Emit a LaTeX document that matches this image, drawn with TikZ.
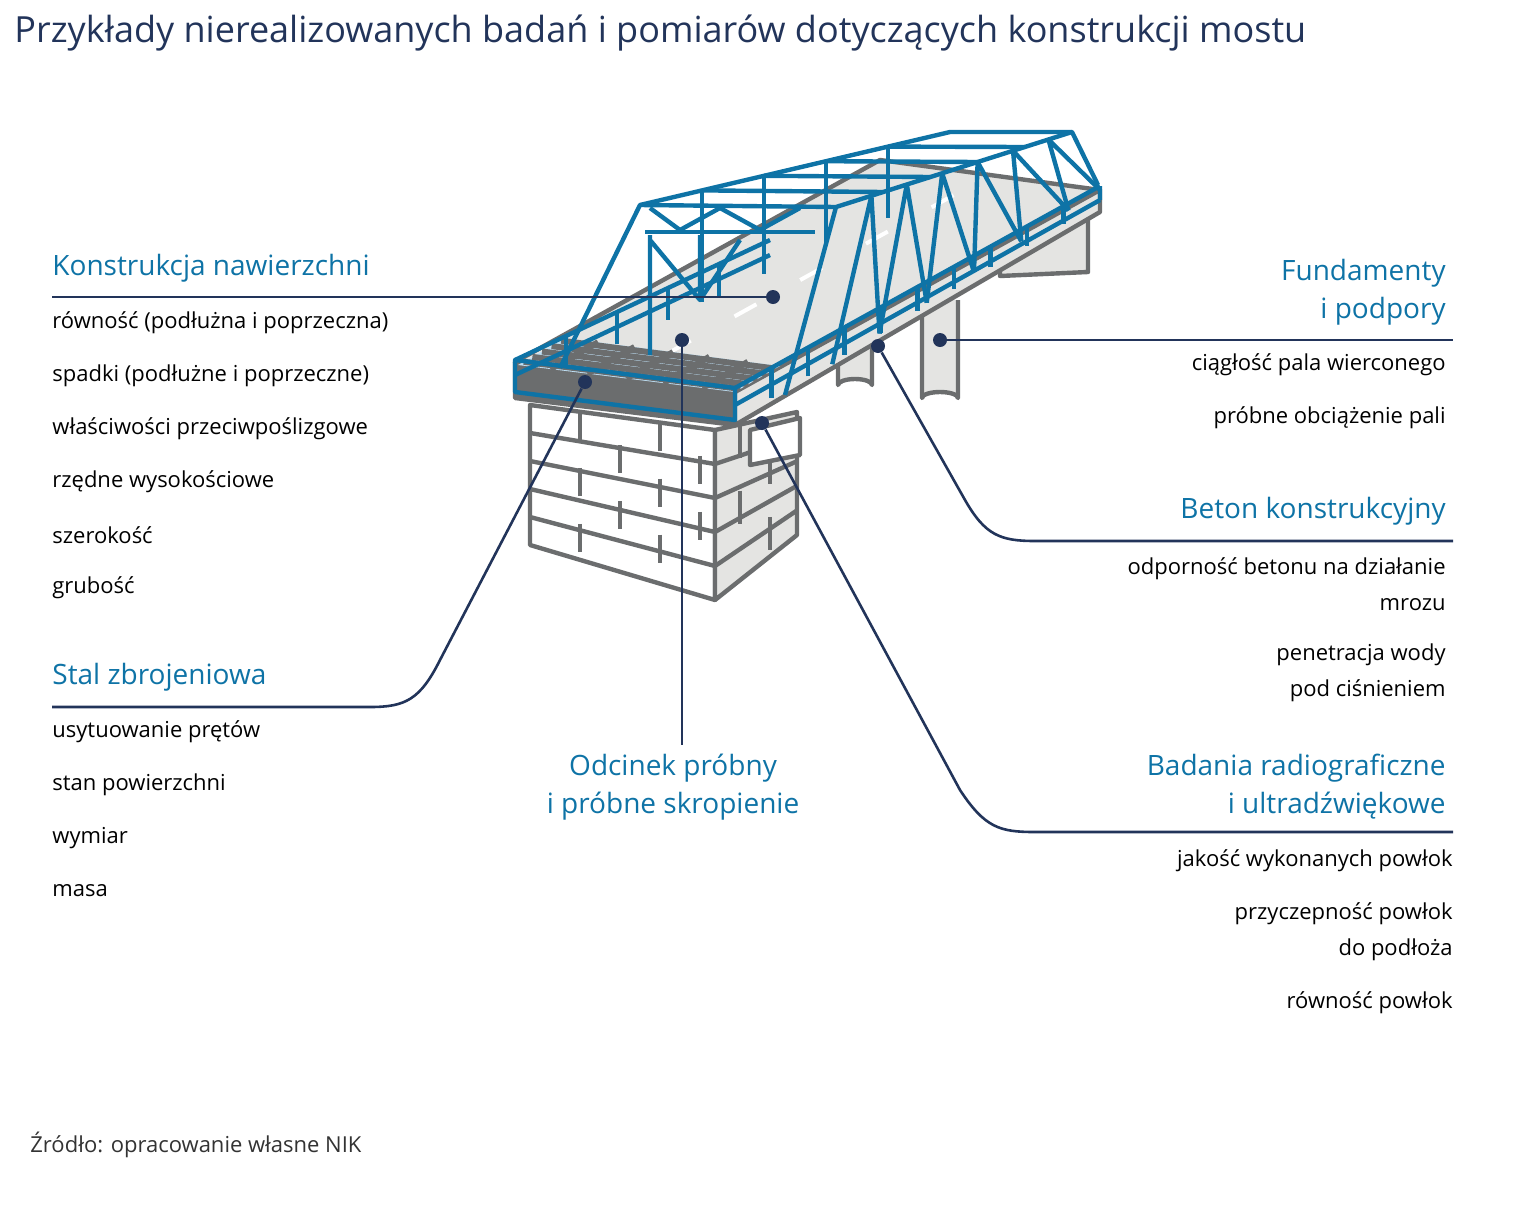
\documentclass[tikz,border=0pt]{standalone}
\usepackage{fontspec}
\setmainfont{Open Sans}
\usetikzlibrary{positioning}
\definecolor{nikblue}{HTML}{0E73A6}
\definecolor{niknavy}{HTML}{22345A}
\definecolor{steel}{HTML}{6B6D6E}
\definecolor{concrete}{HTML}{E4E4E2}
\definecolor{glass}{HTML}{BFE0F5}
\begin{document}
\begin{tikzpicture}[x=0.5pt,y=-0.5pt,
    head/.style={text=nikblue,font=\fontsize{14}{18}\selectfont,inner sep=0pt},
    item/.style={text=black,font=\fontsize{11}{18}\selectfont,inner sep=0pt},
    call/.style={draw=niknavy,line width=1.3pt},
    dot/.style={circle,fill=niknavy,inner sep=0pt,minimum size=7pt},
    truss/.style={draw=nikblue,line width=2.2pt,line join=round},
    grey/.style={draw=steel,line width=2.2pt,line join=round}]

  \useasboundingbox (0,0) rectangle (1520,1221);

  % title and source
  \node[anchor=west,text=niknavy,font=\fontsize{18}{22}\selectfont,inner sep=0pt] (title) at (14,33)
       {Przykłady nierealizowanych badań i pomiarów dotyczących konstrukcji mostu};
  \node[anchor=west,text=black!80,font=\fontsize{11}{14}\selectfont,inner sep=0pt] (src) at (30,1145)
       {Źródło: opracowanie własne NIK};

  % far abutment and columns
  \filldraw[grey,fill=concrete] (1000,232) -- (1088,212) -- (1088,272) -- (1000,276) -- cycle;
  \filldraw[grey,fill=concrete] (838,340) -- (838,385) arc[start angle=180,end angle=360,x radius=17,y radius=6] -- (872,340);
  \filldraw[grey,fill=concrete] (922,300) -- (922,398) arc[start angle=180,end angle=360,x radius=18,y radius=6] -- (958,300);

  % pier
  \filldraw[grey,fill=white] (530,405) -- (715,430) -- (715,600) -- (530,545) -- cycle;
  \filldraw[grey,fill=concrete] (715,430) -- (797,412) -- (797,535) -- (715,600) -- cycle;
  \foreach \t in {0.2,0.4,0.6,0.8}
    \draw[grey] (530,405+140*\t) -- (715,430+170*\t)
                (715,430+170*\t) -- (797,412+123*\t);
  \foreach \x/\a/\b in {580/0/1,660/0/1,620/1/2,700/1/2,580/2/3,660/2/3,620/3/4,700/3/4,580/4/5,660/4/5}
    \draw[grey] (\x,{405+25*(\x-530)/185+28*\a}) -- (\x,{405+25*(\x-530)/185+28*\b});
  \foreach \x/\a/\b in {740/0/1,770/1/2,740/2/3,770/3/4}
    \draw[grey] (\x,{430-18*(\x-715)/82+33*\a}) -- (\x,{430-18*(\x-715)/82+33*\b});
  \filldraw[grey,fill=white] (750,430) -- (800,418) -- (800,455) -- (750,465) -- cycle;

  % deck
  \filldraw[grey,fill=concrete] (515,362) -- (880,160) -- (1100,190) -- (735,392) -- cycle;
  \filldraw[grey,fill=steel] (515,362) -- (735,392) -- (735,425) -- (515,398) -- cycle;
  \filldraw[grey,fill=concrete] (735,392) -- (1100,190) -- (1100,212) -- (735,425) -- cycle;
  \foreach \t in {0.12,0.3,0.48,0.66,0.84}
    \draw[white,line width=2pt] ({625+365*\t},{377-202*\t}) -- ({625+365*(\t+0.06)},{377-202*(\t+0.06)});

  % reinforcement grid
  \fill[glass] (518,365) -- (566,338) -- (780,366) -- (735,392) -- cycle;
  \foreach \t in {0.15,0.32,0.5,0.67,0.85}
    \draw[steel,line width=3pt] ({518+48*0+217*\t},{365+27*\t}) -- ({566+214*\t},{338+28*\t});
  \foreach \t in {0.12,0.3,0.5,0.7,0.9}
    \draw[steel,line width=3pt] ({518+48*\t},{365-27*\t}) -- ({735+45*\t},{392-26*\t});

  % left truss and portal
  \draw[truss] (560,368) -- (640,205) -- (950,132) -- (1072,132) -- (1098,185);
  \draw[truss] (640,205) -- (836,207) -- (1072,132);
  \draw[truss] (645,232) -- (815,232);
  \draw[truss] (650,208) -- (680,230) -- (720,208) -- (760,230) -- (800,208);
  \foreach \t in {0.2,0.4,0.6,0.8}
    \draw[truss] ({640+310*\t},{205-73*\t}) -- ({836+236*\t},{207-75*\t});
  \draw[truss] (650,235) -- (650,355) (700,235) -- (700,300) (650,240) -- (700,300) -- (740,240);
  \foreach \t in {0.2,0.4,0.6,0.8}
    \draw[truss] ({640+310*\t},{205-73*\t}) -- ({640+310*\t},{330-140*\t});

  % right truss
  \draw[truss] (785,395) -- (836,207);
  \foreach \t/\s in {0.15/0.3,0.3/0.45,0.45/0.6,0.6/0.75,0.75/0.9,0.9/1}
    \draw[truss] ({836+236*\t},{207-75*\t}) -- ({785+315*\t},{395-205*\t})
                 ({836+236*\t},{207-75*\t}) -- ({785+315*\s},{395-205*\s});

  % railings
  \draw[truss] (515,360) -- (515,392) -- (735,420) -- (735,388) -- cycle;
  \draw[truss] (515,360) -- (770,240);
  \draw[truss] (515,375) -- (770,255);
  \draw[truss] (735,388) -- (1100,186) (735,405) -- (1100,200) (1100,186) -- (1100,200);
  \foreach \t in {0.1,0.2,...,0.95}
    \draw[truss] ({735+365*\t},{420-218*\t}) -- ({735+365*\t},{388-202*\t});
  \foreach \t in {0.2,0.4,0.6,0.8}
    \draw[truss] ({515+255*\t},{360-120*\t}) -- ({515+255*\t},{392-120*\t});

  % callout dots
  \node[dot] (dDeck) at (773,297) {};
  \node[dot] (dFund) at (940,340) {};
  \node[dot] (dStal) at (585,382) {};
  \node[dot] (dOdc)  at (682,340) {};
  \node[dot] (dBet)  at (878,346) {};
  \node[dot] (dRad)  at (762,423) {};

  \coordinate (eDeck) at (52,297);
  \coordinate (eFund) at (1453,340);
  \coordinate (eStal) at (52,707);
  \coordinate (eOdc)  at (682,745);
  \coordinate (eBet)  at (1453,541);
  \coordinate (eRad)  at (1453,832);

  \draw[call] (dDeck) -- (eDeck);
  \draw[call] (dFund) -- (eFund);
  \draw[call] (dOdc) -- (eOdc);
  \draw[call] (dStal) -- (440,660) .. controls (420,700) and (405,707) .. (370,707) -- (eStal);
  \draw[call] (dBet) -- (965,500) .. controls (985,535) and (1000,541) .. (1035,541) -- (eBet);
  \draw[call] (dRad) -- (960,790) .. controls (985,828) and (1000,832) .. (1035,832) -- (eRad);

  % left labels
  \node[head,anchor=west] (hDeck) at (52,268) {Konstrukcja nawierzchni};
  \foreach \txt [count=\i] in {równość (podłużna i poprzeczna),spadki (podłużne i poprzeczne),
      właściwości przeciwpoślizgowe,rzędne wysokościowe,szerokość,grubość}
    \node[item,anchor=west] (iDeck\i) at (52,270+53*\i) {\txt};
  \node[head,anchor=west] (hStal) at (52,677) {Stal zbrojeniowa};
  \foreach \txt [count=\i] in {usytuowanie prętów,stan powierzchni,wymiar,masa}
    \node[item,anchor=west] (iStal\i) at (52,679+53*\i) {\txt};

  % middle label
  \node[head,align=center] (hOdc) at (673,787) {Odcinek próbny\\[1pt]i próbne skropienie};

  % right labels
  \node[head,anchor=east,align=right] (hFund) at (1446,292) {Fundamenty\\[1pt]i podpory};
  \node[item,anchor=east] (iFund1) at (1446,365) {ciągłość pala wierconego};
  \node[item,anchor=east] (iFund2) at (1446,418) {próbne obciążenie pali};
  \node[head,anchor=east] (hBet) at (1446,511) {Beton konstrukcyjny};
  \node[item,anchor=east,align=right] (iBet1) at (1446,584) {odporność betonu na działanie\\mrozu};
  \node[item,anchor=east,align=right] (iBet2) at (1446,673) {penetracja wody\\pod ciśnieniem};
  \node[head,anchor=east,align=right] (hRad) at (1446,787) {Badania radiograficzne\\[1pt]i ultradźwiękowe};
  \node[item,anchor=east] (iRad1) at (1453,861) {jakość wykonanych powłok};
  \node[item,anchor=east,align=right] (iRad2) at (1453,932) {przyczepność powłok\\do podłoża};
  \node[item,anchor=east] (iRad3) at (1453,1003) {równość powłok};
\end{tikzpicture}
\end{document}
